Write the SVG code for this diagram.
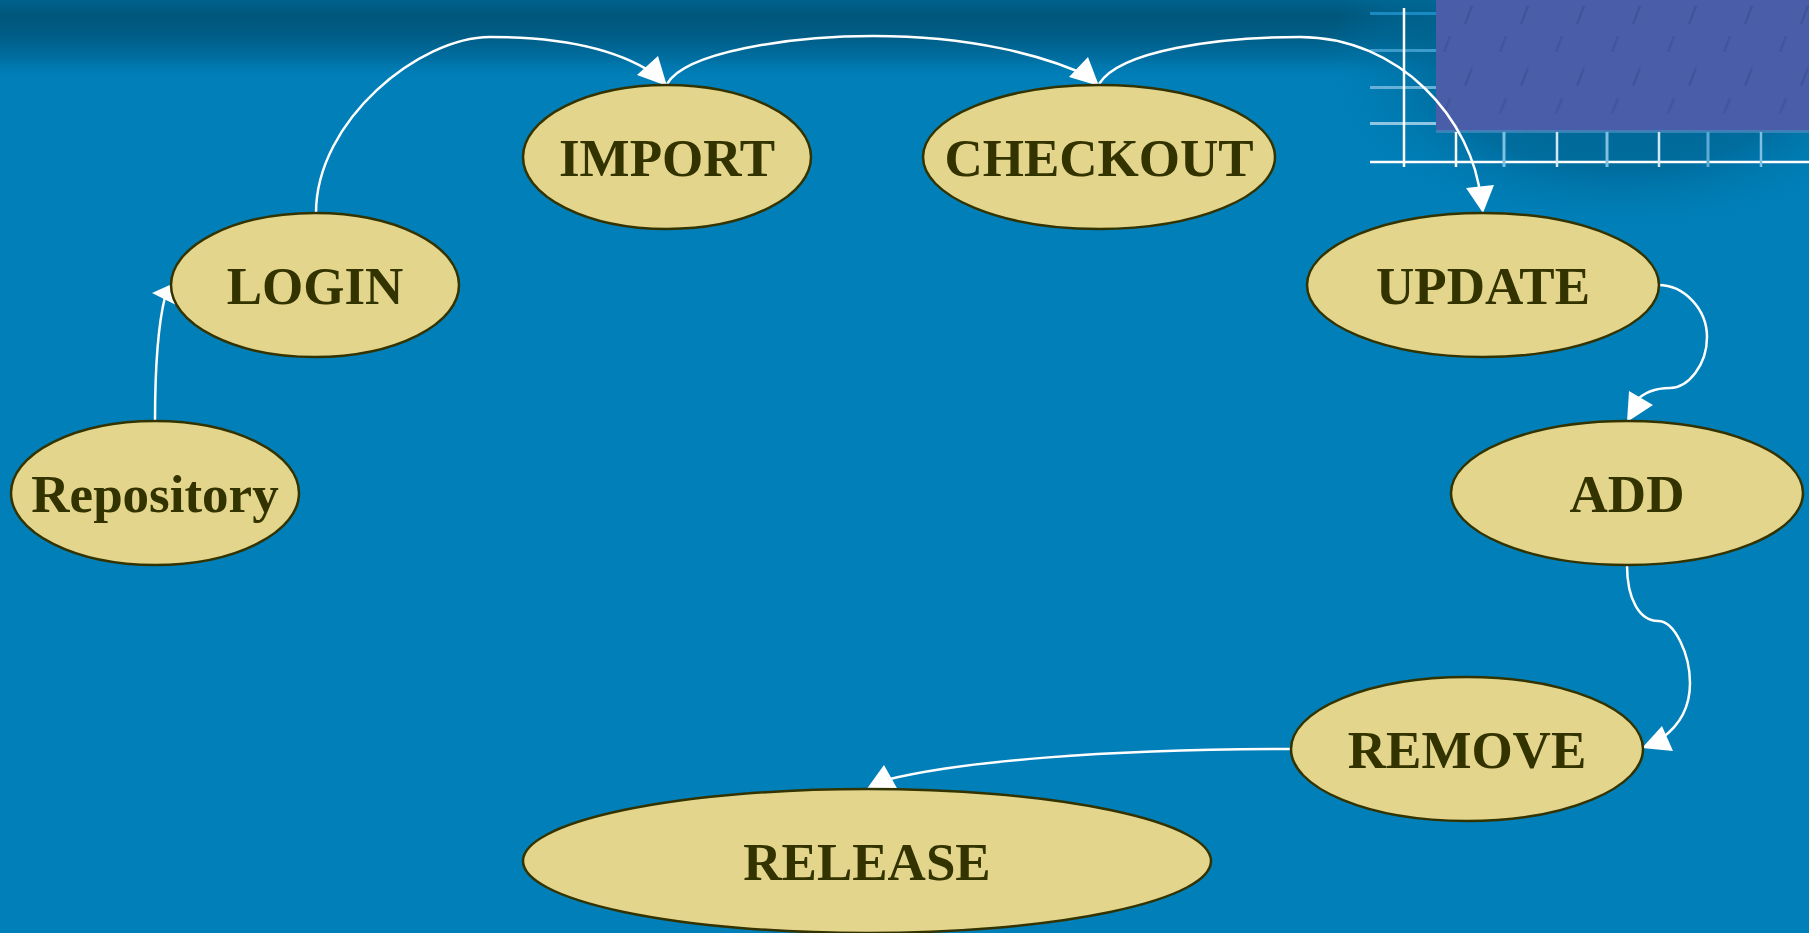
<svg xmlns="http://www.w3.org/2000/svg" width="1809" height="933" viewBox="0 0 1809 933">
<defs>
<linearGradient id="topband" x1="0" y1="0" x2="0" y2="1">
<stop offset="0" stop-color="#00628c"/>
<stop offset="0.2" stop-color="#00567b"/>
<stop offset="0.45" stop-color="#005d86"/>
<stop offset="0.75" stop-color="#0070a3"/>
<stop offset="1" stop-color="#007fb8" stop-opacity="0"/>
</linearGradient>
<radialGradient id="gridshade" cx="1620" cy="70" r="300" gradientUnits="userSpaceOnUse" gradientTransform="translate(1620 70) scale(1 0.55) translate(-1620 -70)">
<stop offset="0" stop-color="#005f8c" stop-opacity="0.9"/>
<stop offset="0.6" stop-color="#006592" stop-opacity="0.7"/>
<stop offset="1" stop-color="#007fb8" stop-opacity="0"/>
</radialGradient>
<pattern id="tex" x="1436" y="0" width="56" height="62" patternUnits="userSpaceOnUse">
<rect width="56" height="62" fill="#4a5da9"/>
<line x1="36" y1="6" x2="29" y2="24" stroke="#3a4a8e" stroke-width="2.5" opacity="0.55"/>
<line x1="14" y1="36" x2="8" y2="52" stroke="#3a4a8e" stroke-width="2.5" opacity="0.45"/>
</pattern>
<style>
.node ellipse{fill:#e4d58c;stroke:#333300;stroke-width:2.5}
.node text{font-family:"Liberation Serif","Times New Roman",serif;font-weight:bold;font-size:53px;fill:#333300;text-anchor:middle}
.edge{fill:none;stroke:#ffffff;stroke-width:2.5}
.ah{fill:#ffffff;stroke:none}
.gw{stroke:#ffffff;stroke-width:2.5}
</style>
</defs>
<!-- background -->
<rect width="1809" height="933" fill="#007fb8"/>
<rect width="1809" height="80" fill="url(#topband)"/>
<!-- top-right decoration -->
<g id="decoration">
<rect x="1300" y="0" width="509" height="240" fill="url(#gridshade)"/>
<rect x="1436" y="0" width="373" height="132" fill="url(#tex)"/>
<rect x="1436" y="130" width="373" height="3" fill="#3f8fbf" opacity="0.7"/>
<rect x="1370" y="12" width="66" height="3" fill="#1a8ac4"/>
<rect x="1370" y="49" width="66" height="3" fill="#3d9bcb"/>
<rect x="1370" y="86" width="66" height="3" fill="#68b1d6"/>
<rect x="1370" y="122" width="66" height="3" fill="#8fc6e2"/>
<line class="gw" x1="1404" y1="8" x2="1404" y2="167"/>
<line class="gw" x1="1370" y1="162" x2="1809" y2="162"/>
<line x1="1456" y1="132" x2="1456" y2="167" stroke="#ffffff" stroke-width="2.5"/>
<line x1="1504" y1="132" x2="1504" y2="167" stroke="#7fbfe0" stroke-width="3"/>
<line x1="1557" y1="132" x2="1557" y2="167" stroke="#d0e8f4" stroke-width="2.5"/>
<line x1="1607" y1="132" x2="1607" y2="167" stroke="#7fbfe0" stroke-width="3"/>
<line x1="1659" y1="132" x2="1659" y2="167" stroke="#d0e8f4" stroke-width="2.5"/>
<line x1="1708" y1="132" x2="1708" y2="167" stroke="#5eaad6" stroke-width="3"/>
<line x1="1761" y1="132" x2="1761" y2="167" stroke="#7fbfe0" stroke-width="2.5"/>
</g>
<!-- connectors -->
<g id="connectors">
<path class="edge" d="M155,422 C155,370 158,325 165,297"/>
<polygon class="ah" points="152,293 172,284 176,305"/>
<path class="edge" d="M316,213 C316,120 420,37 490,37 C570,37 625,52 660,78"/>
<polygon class="ah" points="637,75 658,56 667,86"/>
<path class="edge" d="M667,84 C685,52 790,36 873,36 C970,36 1045,55 1092,78"/>
<polygon class="ah" points="1069,77 1088,57 1099,86"/>
<path class="edge" d="M1099,84 C1120,50 1220,37 1300,37 C1400,37 1473,120 1481,200"/>
<polygon class="ah" points="1466,188 1494,185 1483,213"/>
<path class="edge" d="M1658,285 C1685,285 1707,310 1707,337 C1707,365 1688,388 1670,388 C1655,388 1643,393 1635,402"/>
<polygon class="ah" points="1629,391 1653,405 1627,422"/>
<path class="edge" d="M1627,565 C1627,600 1640,621 1658,621 C1675,621 1690,655 1690,683 C1690,708 1680,725 1662,738"/>
<polygon class="ah" points="1642,748 1662,726 1673,751"/>
<path class="edge" d="M1292,749 C1100,749 960,762 890,779"/>
<polygon class="ah" points="866,790 884,765 898,790"/>
</g>
<!-- nodes -->
<g id="node-repository" class="node"><ellipse cx="155" cy="493" rx="144" ry="72"/><text x="155" y="512">Repository</text></g>
<g id="node-login" class="node"><ellipse cx="315" cy="285" rx="144" ry="72"/><text x="315" y="304">LOGIN</text></g>
<g id="node-import" class="node"><ellipse cx="667" cy="157" rx="144" ry="72"/><text x="667" y="176">IMPORT</text></g>
<g id="node-checkout" class="node"><ellipse cx="1099" cy="157" rx="176" ry="72"/><text x="1099" y="176">CHECKOUT</text></g>
<g id="node-update" class="node"><ellipse cx="1483" cy="285" rx="176" ry="72"/><text x="1483" y="304">UPDATE</text></g>
<g id="node-add" class="node"><ellipse cx="1627" cy="493" rx="176" ry="72"/><text x="1627" y="512">ADD</text></g>
<g id="node-remove" class="node"><ellipse cx="1467" cy="749" rx="176" ry="72"/><text x="1467" y="768">REMOVE</text></g>
<g id="node-release" class="node"><ellipse cx="867" cy="861" rx="344" ry="72"/><text x="867" y="880">RELEASE</text></g>
</svg>
